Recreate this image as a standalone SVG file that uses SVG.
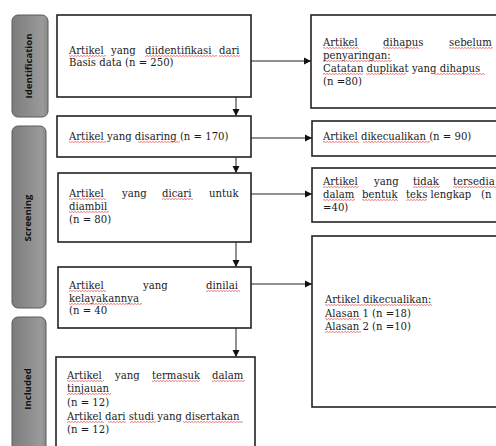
<svg xmlns="http://www.w3.org/2000/svg" width="496" height="446" viewBox="0 0 496 446">
<defs>
  <linearGradient id="gbar" x1="0" y1="0" x2="1" y2="0">
    <stop offset="0" stop-color="#7c7c7c"/>
    <stop offset="0.85" stop-color="#9a9a9a"/>
    <stop offset="1" stop-color="#8a8a8a"/>
  </linearGradient>
  <pattern id="sq" x="0" y="0" width="3" height="2" patternUnits="userSpaceOnUse">
    <path d="M0,1.6 L1.5,0.4 L3,1.6" fill="none" stroke="#e23a3a" stroke-width="0.7"/>
  </pattern>
  <marker id="ah" markerUnits="userSpaceOnUse" markerWidth="8" markerHeight="8" refX="7" refY="4" orient="auto">
    <path d="M0,0.5 L7,4 L0,7.5 z" fill="#111"/>
  </marker>
</defs>
<style>
  .bar{fill:url(#gbar);stroke:#5a5a5a;stroke-width:1}
  .bt{font-family:"Open Sans","DejaVu Sans",sans-serif;font-weight:bold;font-size:9.6px;fill:#111}
  .box{fill:#fff;stroke:#222;stroke-width:1.6}
  .t{font-family:"DejaVu Serif","Liberation Serif",serif;font-size:10.1px;fill:#1c1c1c}
  .sq{fill:url(#sq)}
  .c{fill:none;stroke:#222;stroke-width:1;marker-end:url(#ah)}
</style>

<g id="bar-identification">
  <rect class="bar" x="12" y="15" width="36" height="102" rx="6"/>
  <text class="bt" transform="translate(32,66) rotate(-90)" text-anchor="middle">Identification</text>
</g>
<g id="bar-screening">
  <rect class="bar" x="12" y="126" width="34" height="182" rx="6"/>
  <text class="bt" transform="translate(31,218) rotate(-90)" text-anchor="middle">Screening</text>
</g>
<g id="bar-included">
  <rect class="bar" x="12" y="317" width="34" height="150" rx="6"/>
  <text class="bt" transform="translate(31,389) rotate(-90)" text-anchor="middle">Included</text>
</g>

<g id="connectors">
  <line class="c" x1="236" y1="97" x2="236" y2="116"/>
  <line class="c" x1="236" y1="157" x2="236" y2="173"/>
  <line class="c" x1="236" y1="242" x2="236" y2="267"/>
  <line class="c" x1="236" y1="328" x2="236" y2="357"/>
  <line class="c" x1="251" y1="61" x2="311" y2="61"/>
  <line class="c" x1="251" y1="138" x2="312" y2="138"/>
  <line class="c" x1="251" y1="194" x2="312" y2="194"/>
  <line class="c" x1="251" y1="284" x2="312" y2="284"/>
</g>

<g id="n1">
  <rect class="box" x="57" y="15" width="194" height="82"/>
  <text class="t" y="54"><tspan x="69">Artikel</tspan><tspan x="111">yang</tspan><tspan x="145">diidentifikasi</tspan><tspan x="219">dari</tspan></text>
  <text class="t" x="69" y="66">Basis data (n = 250)</text>
  <rect class="sq" x="69" y="55" width="37" height="2"/>
  <rect class="sq" x="145" y="55" width="72" height="2"/>
  <rect class="sq" x="219" y="55" width="21" height="2"/>
</g>

<g id="n2">
  <rect class="box" x="57" y="116" width="194" height="41"/>
  <text class="t" x="69" y="140">Artikel yang disaring (n = 170)</text>
  <rect class="sq" x="69" y="141" width="37" height="2"/>
  <rect class="sq" x="138" y="141" width="42" height="2"/>
</g>

<g id="n3">
  <rect class="box" x="58" y="173" width="193" height="69"/>
  <text class="t" y="197"><tspan x="69">Artikel</tspan><tspan x="122">yang</tspan><tspan x="162">dicari</tspan><tspan x="209">untuk</tspan></text>
  <text class="t" x="69" y="210">diambil</text>
  <text class="t" x="69" y="223">(n = 80)</text>
  <rect class="sq" x="69" y="198" width="37" height="2"/>
  <rect class="sq" x="162" y="198" width="31" height="2"/>
  <rect class="sq" x="69" y="211" width="40" height="2"/>
</g>

<g id="n4">
  <rect class="box" x="58" y="267" width="193" height="61"/>
  <text class="t" y="289"><tspan x="69">Artikel</tspan><tspan x="143">yang</tspan><tspan x="206">dinilai</tspan></text>
  <text class="t" x="69" y="302">kelayakannya</text>
  <text class="t" x="69" y="314">(n = 40</text>
  <rect class="sq" x="69" y="290" width="37" height="2"/>
  <rect class="sq" x="206" y="290" width="34" height="2"/>
  <rect class="sq" x="69" y="303" width="73" height="2"/>
</g>

<g id="n5">
  <rect class="box" x="56" y="357" width="199" height="100"/>
  <text class="t" y="379"><tspan x="67">Artikel</tspan><tspan x="115">yang</tspan><tspan x="152">termasuk</tspan><tspan x="212">dalam</tspan></text>
  <text class="t" x="67" y="392">tinjauan</text>
  <text class="t" x="67" y="406">(n = 12)</text>
  <text class="t" x="67" y="420">Artikel dari studi yang disertakan</text>
  <text class="t" x="67" y="433">(n = 12)</text>
  <rect class="sq" x="67" y="380" width="37" height="2"/>
  <rect class="sq" x="152" y="380" width="48" height="2"/>
  <rect class="sq" x="212" y="380" width="33" height="2"/>
  <rect class="sq" x="67" y="393" width="44" height="2"/>
  <rect class="sq" x="67" y="421" width="37" height="2"/>
  <rect class="sq" x="108" y="421" width="18" height="2"/>
  <rect class="sq" x="130" y="421" width="26" height="2"/>
  <rect class="sq" x="183" y="421" width="60" height="2"/>
</g>

<g id="r1">
  <rect class="box" x="311" y="15" width="200" height="93"/>
  <text class="t" y="46"><tspan x="323">Artikel</tspan><tspan x="383">dihapus</tspan><tspan x="449">sebelum</tspan></text>
  <text class="t" x="323" y="59">penyaringan:</text>
  <text class="t" x="323" y="72">Catatan duplikat yang dihapus</text>
  <text class="t" x="323" y="85">(n =80)</text>
  <rect class="sq" x="323" y="47" width="36" height="2"/>
  <rect class="sq" x="383" y="47" width="36" height="2"/>
  <rect class="sq" x="449" y="47" width="44" height="2"/>
  <rect class="sq" x="323" y="60" width="69" height="2"/>
  <rect class="sq" x="323" y="73" width="40" height="2"/>
  <rect class="sq" x="366" y="73" width="40" height="2"/>
  <rect class="sq" x="434" y="73" width="51" height="2"/>
</g>

<g id="r2">
  <rect class="box" x="312" y="121" width="200" height="35"/>
  <text class="t" x="323" y="140">Artikel dikecualikan (n = 90)</text>
  <rect class="sq" x="323" y="141" width="36" height="2"/>
  <rect class="sq" x="363" y="141" width="67" height="2"/>
</g>

<g id="r3">
  <rect class="box" x="312" y="168" width="200" height="54"/>
  <text class="t" y="185"><tspan x="323">Artikel</tspan><tspan x="374">yang</tspan><tspan x="413">tidak</tspan><tspan x="453">tersedia</tspan></text>
  <text class="t" y="198"><tspan x="323">dalam</tspan><tspan x="362">bentuk</tspan><tspan x="406">teks lengkap</tspan><tspan x="481">(n</tspan></text>
  <text class="t" x="323" y="211">=40)</text>
  <rect class="sq" x="323" y="186" width="36" height="2"/>
  <rect class="sq" x="413" y="186" width="27" height="2"/>
  <rect class="sq" x="453" y="186" width="43" height="2"/>
  <rect class="sq" x="323" y="199" width="32" height="2"/>
  <rect class="sq" x="362" y="199" width="36" height="2"/>
  <rect class="sq" x="406" y="199" width="21" height="2"/>
</g>

<g id="r4">
  <rect class="box" x="312" y="236" width="200" height="171"/>
  <text class="t" x="325" y="303">Artikel dikecualikan:</text>
  <text class="t" x="325" y="317">Alasan 1 (n =18)</text>
  <text class="t" x="325" y="330">Alasan 2 (n =10)</text>
  <rect class="sq" x="325" y="304" width="107" height="2"/>
  <rect class="sq" x="325" y="318" width="36" height="2"/>
  <rect class="sq" x="325" y="331" width="36" height="2"/>
</g>
</svg>
